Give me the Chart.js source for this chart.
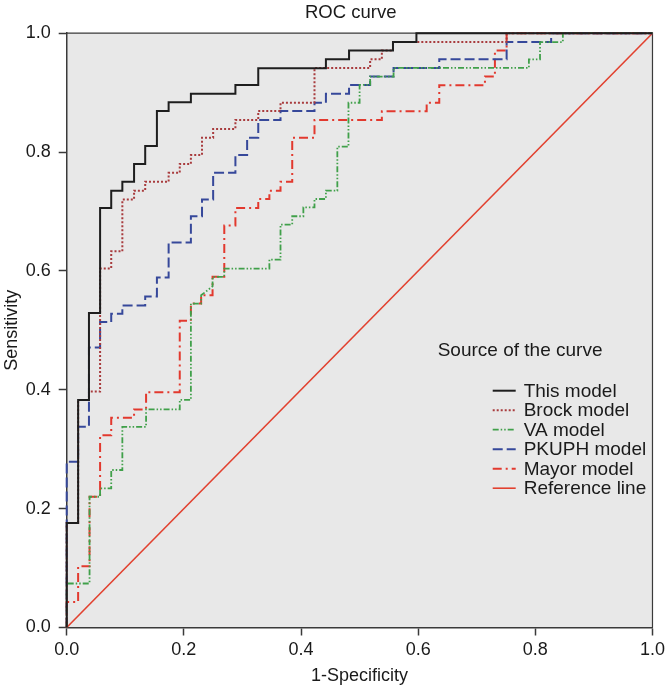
<!DOCTYPE html>
<html>
<head>
<meta charset="utf-8">
<script src="https://cdn.jsdelivr.net/npm/chart.js@4.4.1/dist/chart.umd.min.js"></script>
<style>
html,body{margin:0;padding:0;background:#ffffff;}
#wrap{width:669px;height:692px;}
</style>
</head>
<body>
<div id="wrap"><canvas id="c" width="669" height="692"></canvas></div>
<script>
// ---- text ----
const chartTitle = 'ROC curve';
const xAxisTitle = '1-Specificity';
const yAxisTitle = 'Sensitivity';
const legendTitle = 'Source of the curve';
const seriesLabels = ['This model', 'Brock model', 'VA model', 'PKUPH model', 'Mayor model', 'Reference line'];
const tickValues = [0, 0.2, 0.4, 0.6, 0.8, 1.0];

// ---- curve vertices [1-specificity, sensitivity] ----
const thisModel = [[0,0],[0,0.176],[0.0195,0.176],[0.0195,0.383],[0.038,0.383],[0.038,0.529],[0.057,0.529],[0.057,0.706],
  [0.076,0.706],[0.076,0.735],[0.095,0.735],[0.095,0.750],[0.115,0.750],[0.115,0.780],[0.134,0.780],[0.134,0.810],
  [0.154,0.810],[0.154,0.869],[0.174,0.869],[0.174,0.884],[0.212,0.884],[0.212,0.898],[0.288,0.898],[0.288,0.913],
  [0.327,0.913],[0.327,0.941],[0.4425,0.941],[0.4425,0.956],[0.482,0.956],[0.482,0.971],[0.557,0.971],[0.557,0.985],
  [0.597,0.985],[0.597,1],[1,1]];

const brockModel = [[0,0],[0,0.176],[0.0195,0.176],[0.0195,0.383],[0.038,0.383],[0.038,0.397],[0.057,0.397],[0.057,0.604],
  [0.076,0.604],[0.076,0.633],[0.095,0.633],[0.095,0.720],[0.115,0.720],[0.115,0.735],[0.134,0.735],[0.134,0.750],
  [0.174,0.750],[0.174,0.765],[0.193,0.765],[0.193,0.780],[0.212,0.780],[0.212,0.795],[0.231,0.795],[0.231,0.824],
  [0.250,0.824],[0.250,0.839],[0.288,0.839],[0.288,0.854],[0.327,0.854],[0.327,0.869],[0.365,0.869],[0.365,0.883],
  [0.423,0.883],[0.423,0.9415],[0.518,0.9415],[0.518,0.956],[0.538,0.956],[0.538,0.971],[0.557,0.971],[0.557,0.985],
  [0.751,0.985],[0.751,1],[1,1]];

const vaModel = [[0,0],[0,0.074],[0.039,0.074],[0.039,0.220],[0.057,0.220],[0.057,0.234],[0.076,0.234],[0.076,0.265],
  [0.095,0.265],[0.095,0.3375],[0.1355,0.3375],[0.1355,0.367],[0.193,0.367],[0.193,0.383],[0.212,0.383],[0.212,0.545],
  [0.2295,0.545],[0.2295,0.559],[0.249,0.574],[0.249,0.590],[0.269,0.590],[0.269,0.604],[0.346,0.604],[0.346,0.619],
  [0.365,0.619],[0.365,0.678],[0.385,0.678],[0.385,0.692],[0.404,0.692],[0.404,0.707],[0.423,0.707],[0.423,0.721],
  [0.4425,0.721],[0.4425,0.735],[0.462,0.735],[0.462,0.809],[0.481,0.809],[0.481,0.883],[0.500,0.883],[0.500,0.913],
  [0.518,0.913],[0.518,0.927],[0.558,0.927],[0.558,0.9415],[0.789,0.9415],[0.789,0.956],[0.808,0.956],[0.808,0.985],
  [0.847,0.985],[0.847,1],[1,1]];

const pkuphModel = [[0,0],[0,0.279],[0.0195,0.279],[0.0195,0.338],[0.038,0.338],[0.038,0.471],[0.057,0.471],[0.057,0.514],
  [0.076,0.514],[0.076,0.528],[0.095,0.528],[0.095,0.542],[0.134,0.542],[0.134,0.557],[0.154,0.557],[0.154,0.589],
  [0.174,0.589],[0.174,0.648],[0.212,0.648],[0.212,0.692],[0.231,0.692],[0.231,0.720],[0.250,0.720],[0.250,0.765],
  [0.288,0.765],[0.288,0.795],[0.308,0.795],[0.308,0.824],[0.327,0.824],[0.327,0.854],[0.365,0.854],[0.365,0.869],
  [0.423,0.869],[0.423,0.883],[0.4425,0.883],[0.4425,0.898],[0.482,0.898],[0.482,0.913],[0.518,0.913],[0.518,0.927],
  [0.558,0.927],[0.558,0.9415],[0.636,0.9415],[0.636,0.956],[0.751,0.956],[0.751,0.985],[0.827,0.985],[0.827,1],[1,1]];

const mayorModel = [[0,0],[0,0.043],[0.0195,0.043],[0.0195,0.103],[0.039,0.103],[0.039,0.220],[0.057,0.220],[0.057,0.3235],
  [0.076,0.3235],[0.076,0.353],[0.115,0.353],[0.115,0.367],[0.1355,0.367],[0.1355,0.396],[0.193,0.396],[0.193,0.516],
  [0.212,0.516],[0.212,0.545],[0.2295,0.545],[0.2295,0.559],[0.249,0.559],[0.249,0.590],[0.269,0.590],[0.269,0.6765],
  [0.288,0.6765],[0.288,0.706],[0.327,0.706],[0.327,0.721],[0.346,0.721],[0.346,0.735],[0.365,0.735],[0.365,0.750],
  [0.385,0.750],[0.385,0.824],[0.423,0.824],[0.423,0.854],[0.538,0.854],[0.538,0.8685],[0.6145,0.8685],[0.6145,0.883],
  [0.636,0.883],[0.636,0.9125],[0.714,0.9125],[0.714,0.927],[0.731,0.927],[0.731,0.971],[0.751,0.971],[0.751,1],[1,1]];

const referenceLine = [[0,0],[1,1]];

const seriesData = [thisModel, brockModel, vaModel, pkuphModel, mayorModel, referenceLine];

// ---- styles ----
const FONT = "'Liberation Sans', Arial, Helvetica, sans-serif";
const TEXT = '#1a1a1a';
const AXIS = '#3a3a3a';
const seriesStyles = [
  {color:'#1e1e1e', dash:[], width:2},
  {color:'#a83b3d', dash:[2,2], width:2},
  {color:'#40a04a', dash:[6,2,1.5,2,1.5,2], width:1.8},
  {color:'#36489a', dash:[10,4], width:2},
  {color:'#e2392e', dash:[9,4,2,4], width:2},
  {color:'#e2412f', dash:[], width:1.6}
];

const datasets = seriesData.map((pts, i) => ({
  label: seriesLabels[i],
  data: pts.map(p => ({x: p[0], y: p[1]})),
  borderColor: seriesStyles[i].color,
  borderWidth: seriesStyles[i].width,
  borderDash: seriesStyles[i].dash,
  pointRadius: 0,
  pointHoverRadius: 0,
  fill: false,
  tension: 0,
  clip: false
}));

const plotBackground = {
  id: 'plotBackground',
  afterLayout(chart) {
    // centre the chart title over the chart including the axis label gutter, as in the original
    if (chart.titleBlock) {
      chart.titleBlock.left = 40;
      chart.titleBlock.width = chart.titleBlock.right - chart.titleBlock.left;
    }
  },
  beforeDraw(chart) {
    const {ctx, chartArea: a} = chart;
    ctx.save();
    ctx.fillStyle = '#e8e8e8';
    ctx.fillRect(a.left, a.top, a.right - a.left, a.bottom - a.top);
    ctx.restore();
  },
  beforeDatasetsDraw(chart) {
    const {ctx, chartArea: a} = chart;
    ctx.save();
    ctx.strokeStyle = AXIS;
    ctx.lineWidth = 1.2;
    ctx.beginPath();
    ctx.moveTo(a.left, a.top);
    ctx.lineTo(a.right, a.top);
    ctx.lineTo(a.right, a.bottom);
    ctx.stroke();
    ctx.restore();
  }
};

const curveLegend = {
  id: 'curveLegend',
  afterDraw(chart) {
    const {ctx, chartArea: a} = chart;
    ctx.save();
    ctx.font = '19px ' + FONT;
    ctx.fillStyle = TEXT;
    ctx.textAlign = 'left';
    ctx.textBaseline = 'middle';
    ctx.fillText(legendTitle, a.left + 371, a.top + 318);
    chart.data.datasets.forEach((ds, i) => {
      const y = a.top + 357.5 + i * 19.5;
      ctx.strokeStyle = ds.borderColor;
      ctx.lineWidth = ds.borderWidth;
      ctx.setLineDash(ds.borderDash || []);
      ctx.beginPath();
      ctx.moveTo(a.left + 426, y);
      ctx.lineTo(a.left + 449, y);
      ctx.stroke();
      ctx.setLineDash([]);
      ctx.fillText(ds.label, a.left + 457, y + 1);
    });
    ctx.restore();
  }
};

const tickFont = {family: FONT, size: 18};

new Chart(document.getElementById('c'), {
  type: 'line',
  data: {datasets},
  options: {
    responsive: false,
    animation: false,
    events: [],
    layout: {padding: {left: 0, right: 7.5, top: 0, bottom: 0}},
    plugins: {
      legend: {display: false},
      tooltip: {enabled: false},
      title: {
        display: true,
        text: chartTitle,
        color: TEXT,
        font: {family: FONT, size: 18.5, weight: 'normal'},
        padding: {top: 2, bottom: 9}
      }
    },
    scales: {
      x: {
        type: 'linear',
        min: 0, max: 1,
        afterFit(s) { s.height = 64.5; },
        afterBuildTicks(s) { s.ticks = tickValues.map(v => ({value: v})); },
        ticks: {callback: v => Number(v).toFixed(1), color: TEXT, font: tickFont, padding: 4, maxRotation: 0, autoSkip: false},
        grid: {drawOnChartArea: false, drawTicks: true, tickLength: 8, tickColor: AXIS, tickWidth: 1.5},
        border: {display: true, color: AXIS, width: 1.5},
        title: {display: true, text: xAxisTitle, color: TEXT, font: {family: FONT, size: 18}, padding: {top: 0, bottom: 5}}
      },
      y: {
        type: 'linear',
        min: 0, max: 1,
        afterFit(s) { s.width = 66.7; },
        afterBuildTicks(s) { s.ticks = tickValues.map(v => ({value: v})); },
        ticks: {callback: v => Number(v).toFixed(1), color: TEXT, font: tickFont, padding: 8, autoSkip: false},
        grid: {drawOnChartArea: false, drawTicks: true, tickLength: 8, tickColor: AXIS, tickWidth: 1.5},
        border: {display: true, color: AXIS, width: 1.5},
        title: {display: true, text: yAxisTitle, color: TEXT, font: {family: FONT, size: 18}, padding: {top: 1.2, bottom: 0}}
      }
    }
  },
  plugins: [plotBackground, curveLegend]
});
</script>
</body>
</html>
